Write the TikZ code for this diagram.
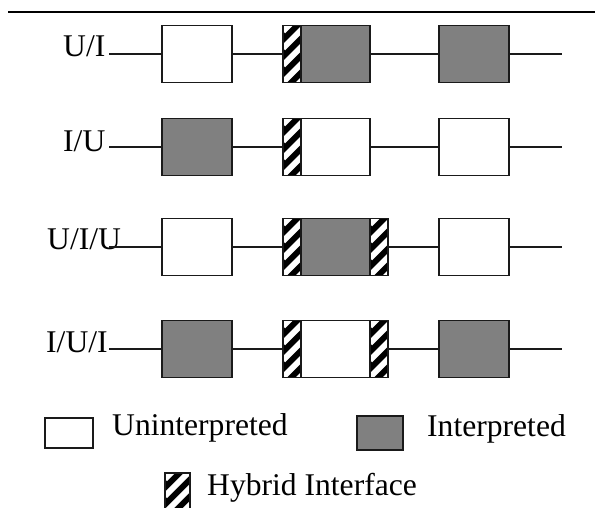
\documentclass[tikz,border=0pt]{standalone}
\usepackage{fontspec}
\setmainfont{Liberation Serif}
\definecolor{midgray}{HTML}{808080}
\definecolor{edge}{HTML}{1A1A1A}
\begin{document}
\begin{tikzpicture}[
                x = 1pt, y = -1pt,
                every node/.style = {font = \fontsize{31.6}{38}\selectfont},
                box/.style = {draw = edge, line width = 1.2pt, inner sep = 0pt, minimum width = 70pt, minimum height = 56.5pt},
                ubox/.style = {box, fill = white},
                ibox/.style = {box, fill = midgray},
                hyb/.style = {draw = edge, line width = 1.2pt, fill = black, inner sep = 0pt, minimum width = 18pt, minimum height = 56.5pt,
                    path picture = {\foreach \k in {-6,...,6} \draw[white, line width = 6pt] ([yshift = \k*17pt]path picture bounding box.south west) -- ++(60pt, 60pt);}},
                wire/.style = {draw = edge, line width = 1.2pt},
                lbl/.style = {anchor = base west, inner sep = 0pt},
            ]
            \useasboundingbox (0, 0) rectangle (595, 508);
            \draw[line width = 1.2pt] (8, 12) -- (595, 12);

            \node (U1) at (63, 57) [lbl] {U/I};
            \coordinate (S1) at (109, 54);
            \node (A1) at (197, 54) [ubox] {};
            \node (H1) at (292, 54) [hyb] {};
            \node (M1) at (335.5, 54) [ibox, minimum width = 69pt] {};
            \node (B1) at (474, 54) [ibox] {};
            \coordinate (E1) at (562, 54);

            \node (U2) at (63, 152) [lbl] {I/U};
            \coordinate (S2) at (109, 147);
            \node (A2) at (197, 147) [ibox] {};
            \node (H2) at (292, 147) [hyb] {};
            \node (M2) at (335.5, 147) [ubox, minimum width = 69pt] {};
            \node (B2) at (474, 147) [ubox] {};
            \coordinate (E2) at (562, 147);

            \node (U3) at (47, 249) [lbl] {U/I/U};
            \coordinate (S3) at (109, 247);
            \node (A3) at (197, 247) [ubox] {};
            \node (H3) at (292, 247) [hyb] {};
            \node (M3) at (335.5, 247) [ibox, minimum width = 69pt] {};
            \node (R3) at (379, 247) [hyb] {};
            \node (B3) at (474, 247) [ubox] {};
            \coordinate (E3) at (562, 247);

            \node (U4) at (46, 352) [lbl] {I/U/I};
            \coordinate (S4) at (109, 349);
            \node (A4) at (197, 349) [ibox] {};
            \node (H4) at (292, 349) [hyb] {};
            \node (M4) at (335.5, 349) [ubox, minimum width = 69pt] {};
            \node (R4) at (379, 349) [hyb] {};
            \node (B4) at (474, 349) [ibox] {};
            \coordinate (E4) at (562, 349);

            \path[wire] (S1) -- (A1) -- (H1);
            \path[wire] (M1) -- (B1) -- (E1);
            \path[wire] (S2) -- (A2) -- (H2);
            \path[wire] (M2) -- (B2) -- (E2);
            \path[wire] (S3) -- (A3) -- (H3);
            \path[wire] (R3) -- (B3) -- (E3);
            \path[wire] (S4) -- (A4) -- (H4);
            \path[wire] (R4) -- (B4) -- (E4);

            \node (LU) at (69, 433) [ubox, minimum width = 48pt, minimum height = 30pt] {};
            \node (LUt) at (112, 435) [lbl] {Uninterpreted};
            \node (LI) at (380, 433) [ibox, minimum width = 46pt, minimum height = 34pt] {};
            \node (LIt) at (427, 436) [lbl] {Interpreted};
            \node (LH) at (177.5, 493) [hyb, minimum width = 25pt, minimum height = 40pt] {};
            \node (LHt) at (207, 495) [lbl] {Hybrid Interface};
        \end{tikzpicture}
\end{document}
